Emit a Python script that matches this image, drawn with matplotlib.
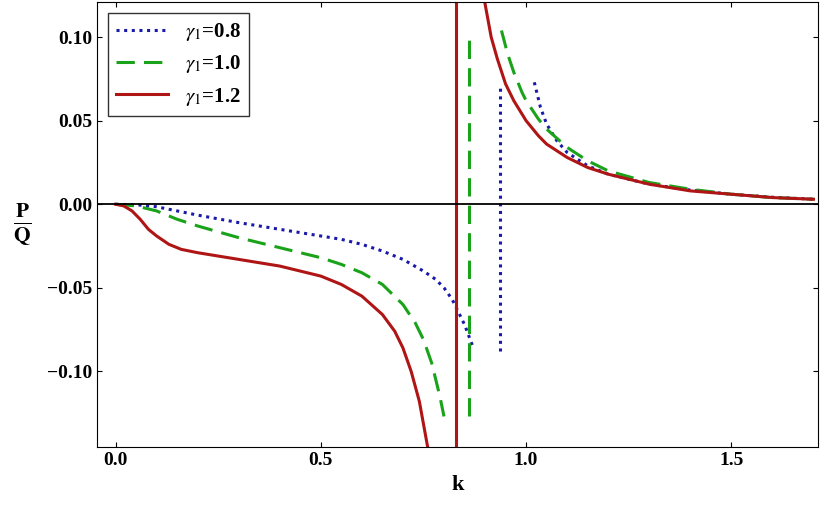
import matplotlib
matplotlib.use("Agg")
import matplotlib.pyplot as plt

plt.rcParams['font.family'] = ['Liberation Serif', 'DejaVu Serif']
plt.rcParams['mathtext.fontset'] = 'stix'

# gamma1 = 0.8 (blue dotted)
b_k1 = [0, 0.05, 0.1, 0.15, 0.2, 0.3, 0.4, 0.5, 0.55, 0.6, 0.65, 0.7, 0.75, 0.78, 0.8, 0.82, 0.85, 0.87]
b_v1 = [0, -0.0003, -0.0015, -0.004, -0.0065, -0.011, -0.015, -0.019, -0.021, -0.024, -0.028, -0.033, -0.040, -0.045, -0.050, -0.057, -0.072, -0.085]
b_kv = [0.937, 0.937]; b_vv = [-0.088, 0.072]
b_k2 = [1.02, 1.035, 1.05, 1.075, 1.1, 1.15, 1.2, 1.3, 1.4, 1.5, 1.6, 1.7]
b_v2 = [0.073, 0.058, 0.048, 0.038, 0.031, 0.023, 0.018, 0.012, 0.0085, 0.006, 0.0042, 0.003]

# gamma1 = 1.0 (green dashed)
g_k1 = [0, 0.05, 0.1, 0.15, 0.2, 0.3, 0.4, 0.5, 0.55, 0.6, 0.65, 0.7, 0.73, 0.75, 0.77, 0.79, 0.8]
g_v1 = [0, -0.001, -0.004, -0.009, -0.013, -0.020, -0.026, -0.032, -0.036, -0.041, -0.048, -0.060, -0.071, -0.081, -0.095, -0.115, -0.127]
g_kv = [0.86, 0.86]; g_vv = [-0.127, 0.103]
g_k2 = [0.94, 0.955, 0.97, 0.99, 1.0, 1.03, 1.05, 1.1, 1.15, 1.2, 1.3, 1.4, 1.5, 1.6, 1.7]
g_v2 = [0.104, 0.090, 0.079, 0.067, 0.062, 0.051, 0.045, 0.034, 0.026, 0.020, 0.013, 0.009, 0.006, 0.004, 0.003]

# gamma1 = 1.2 (red solid)
r_k1 = [0, 0.02, 0.04, 0.06, 0.08, 0.1, 0.13, 0.16, 0.2, 0.25, 0.3, 0.4, 0.5, 0.55, 0.6, 0.65, 0.68, 0.7, 0.72, 0.74, 0.76]
r_v1 = [0, -0.001, -0.004, -0.009, -0.015, -0.019, -0.024, -0.027, -0.029, -0.031, -0.033, -0.037, -0.043, -0.048, -0.055, -0.066, -0.076, -0.086, -0.100, -0.118, -0.145]
r_kv = [0.83, 0.83]; r_vv = [-0.145, 0.12]
r_k2 = [0.9, 0.915, 0.93, 0.95, 0.97, 1.0, 1.03, 1.05, 1.1, 1.15, 1.2, 1.3, 1.4, 1.5, 1.6, 1.7]
r_v2 = [0.120, 0.100, 0.087, 0.072, 0.062, 0.050, 0.041, 0.036, 0.028, 0.022, 0.018, 0.012, 0.008, 0.006, 0.004, 0.003]

fig = plt.figure(figsize=(8.3, 5.22), dpi=100)
ax = fig.add_axes([0.117, 0.143, 0.868, 0.853])

bs = dict(color='#1a1aaa', lw=2.2, linestyle=(0, (1, 1.5)))
gs = dict(color='#1aa31a', lw=2.2, linestyle=(0, (6, 3)))
rs = dict(color='#b01515', lw=2.2)
ax.plot(b_k1, b_v1, **bs); ax.plot(b_kv, b_vv, **bs); ax.plot(b_k2, b_v2, label=r'$\gamma_1$=0.8', **bs)
ax.plot(g_k1, g_v1, **gs); ax.plot(g_kv, g_vv, **gs); ax.plot(g_k2, g_v2, label=r'$\gamma_1$=1.0', **gs)
ax.plot(r_k1, r_v1, **rs); ax.plot(r_kv, r_vv, **rs); ax.plot(r_k2, r_v2, label=r'$\gamma_1$=1.2', **rs)

ax.axhline(0, color='black', lw=1.3)
ax.set_xlim(-0.045, 1.71)
ax.set_ylim(-0.1455, 0.121)
ax.set_xticks([0.0, 0.5, 1.0, 1.5])
ax.set_xticklabels(['0.0', '0.5', '1.0', '1.5'])
ax.set_yticks([-0.10, -0.05, 0.0, 0.05, 0.10])
ax.set_yticklabels(['\u22120.10', '\u22120.05', '0.00', '0.05', '0.10'])
ax.tick_params(direction='in', labelsize=14, top=True, right=True)
for t in ax.get_xticklabels() + ax.get_yticklabels():
    t.set_fontweight('bold')
ax.set_xlabel('k', fontsize=16, fontweight='bold')
ax.set_ylabel(r'$\mathbf{\frac{P}{Q}}$', fontsize=22, rotation=0, labelpad=18, va='center')
leg = ax.legend(loc='upper left', frameon=True, fancybox=False,
                edgecolor='black', handlelength=2.5, prop={'weight': 'bold', 'size': 15})
leg.get_frame().set_linewidth(1.0)
fig.savefig('out.png', dpi=100)
